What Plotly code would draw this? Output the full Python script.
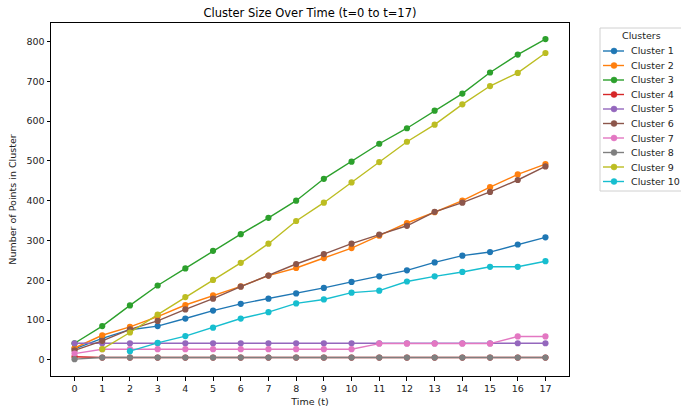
import plotly.graph_objects as go

t = list(range(18))
cluster_names = [f"Cluster {i}" for i in range(1, 11)]
c1 = [28, 54, 76, 85, 104, 124, 141, 154, 167, 181, 196, 210, 225, 245, 262, 271, 290, 308]
c2 = [30, 62, 83, 109, 138, 162, 185, 212, 231, 256, 281, 312, 344, 371, 400, 434, 466, 492]
c3 = [42, 85, 137, 187, 230, 274, 316, 357, 400, 455, 498, 543, 582, 626, 669, 722, 767, 806]
c4 = [8, 6, 6, 6, 6, 6, 6, 6, 6, 6, 6, 6, 6, 6, 6, 6, 6, 6]
c5 = [42, 42, 42, 42, 42, 42, 42, 42, 42, 42, 42, 42, 42, 42, 42, 42, 42, 42]
c6 = [24, 48, 77, 98, 127, 154, 184, 212, 241, 266, 292, 315, 337, 372, 395, 422, 452, 486]
c7 = [16, 27, 27, 27, 27, 27, 27, 27, 27, 27, 27, 41, 41, 41, 41, 41, 59, 59]
c8 = [2, 6, 6, 6, 6, 6, 6, 6, 6, 6, 6, 6, 6, 6, 6, 6, 6, 6]
c9 = [None, 27, 69, 114, 158, 201, 244, 292, 349, 395, 446, 497, 548, 591, 642, 688, 721, 771]
c10 = [None, None, 22, 43, 60, 81, 104, 120, 142, 152, 169, 174, 197, 210, 221, 234, 234, 248]
series = [c1, c2, c3, c4, c5, c6, c7, c8, c9, c10]
colors = ["#1f77b4", "#ff7f0e", "#2ca02c", "#d62728", "#9467bd",
          "#8c564b", "#e377c2", "#7f7f7f", "#bcbd22", "#17becf"]

W, H = 681, 407
L, R, T, B = 51, 569, 23, 376  # plot area in pixels

def px(xp):
    return (xp - L) / (R - L)

def py(yp):
    return (B - yp) / (B - T)

fig = go.Figure()
for name, vals, col in zip(cluster_names, series, colors):
    fig.add_trace(go.Scatter(x=t, y=vals, name=name, mode="lines+markers",
                             line=dict(color=col, width=1.4),
                             marker=dict(color=col, size=6.2),
                             connectgaps=False, showlegend=False))

font = "DejaVu Sans, sans-serif"
FS = 9.5

# manual legend (matplotlib-like compact layout)
shapes = [dict(type="rect", xref="paper", yref="paper",
               x0=px(600), x1=px(690), y0=py(191), y1=py(28),
               line=dict(color="#d0d0d0", width=1), fillcolor="rgba(255,255,255,0.8)",
               layer="above")]
annotations = [dict(text="Clusters", xref="paper", yref="paper", x=px(641), y=py(36),
                    xanchor="center", yanchor="middle", showarrow=False,
                    font=dict(family=font, size=FS, color="#222"))]
for i, (name, col) in enumerate(zip(cluster_names, colors)):
    yy = 51 + 14.5 * i
    shapes.append(dict(type="line", xref="paper", yref="paper",
                       x0=px(603), x1=px(624), y0=py(yy), y1=py(yy),
                       line=dict(color=col, width=1.4), layer="above"))
    shapes.append(dict(type="circle", xref="paper", yref="paper",
                       x0=px(611), x1=px(617), y0=py(yy + 3), y1=py(yy - 3),
                       line=dict(color=col, width=0.5), fillcolor=col, layer="above"))
    annotations.append(dict(text=name, xref="paper", yref="paper", x=px(629), y=py(yy),
                            xanchor="left", yanchor="middle", showarrow=False,
                            font=dict(family=font, size=FS, color="#222")))

fig.update_layout(
    width=W, height=H,
    margin=dict(l=L, r=W - R, t=T, b=H - B, autoexpand=False),
    paper_bgcolor="white", plot_bgcolor="white",
    font=dict(family=font, size=FS, color="#222"),
    title=dict(text="Cluster Size Over Time (t=0 to t=17)", xref="paper", x=0.5, xanchor="center",
               y=1 - 13 / H, yanchor="middle", font=dict(size=11.5, color="black")),
    showlegend=False,
    shapes=shapes,
    annotations=annotations,
    xaxis=dict(range=[-0.85, 17.85], tickmode="array", tickvals=t, ticktext=[str(v) for v in t],
               showline=True, mirror=True, linecolor="black", linewidth=1, automargin=False,
               ticks="outside", ticklen=3.5, tickcolor="black", showgrid=False, zeroline=False,
               title=dict(text="Time (t)", standoff=6, font=dict(size=FS))),
    yaxis=dict(range=[-40.3, 846.3], tickmode="array", tickvals=list(range(0, 801, 100)),
               showline=True, mirror=True, linecolor="black", linewidth=1, automargin=False,
               ticks="outside", ticklen=3.5, tickcolor="black", showgrid=False, zeroline=False,
               title=dict(text="Number of Points in Cluster", standoff=8, font=dict(size=FS))),
)
fig.write_html("out.html", config={"displayModeBar": False},
               post_script="document.body.style.margin='0';document.body.style.overflow='hidden';")
